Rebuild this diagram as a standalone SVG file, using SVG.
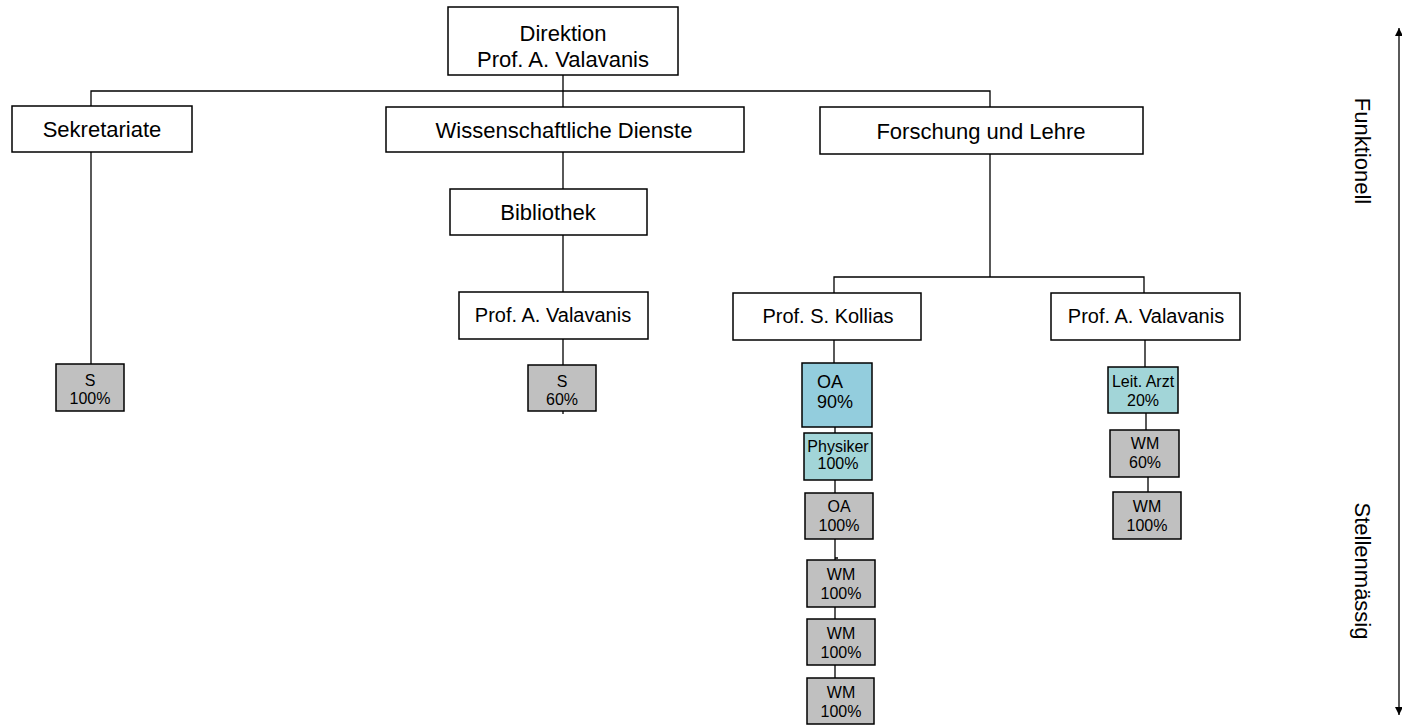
<svg xmlns="http://www.w3.org/2000/svg" width="1402" height="726" viewBox="0 0 1402 726">
<defs>
<style>
.box{fill:#ffffff;stroke:#000000;stroke-width:1.5}
.gray{fill:#c0c0c0;stroke:#000000;stroke-width:1.5}
.aqua{fill:#93cddd;stroke:#000000;stroke-width:1.5}
.teal{fill:#a2d5d8;stroke:#000000;stroke-width:1.5}
.lbl{font-family:"Liberation Sans",Arial,sans-serif;font-size:22px;fill:#000;text-anchor:middle}
.prof{font-family:"Liberation Sans",Arial,sans-serif;font-size:20px;fill:#000;text-anchor:middle}
.sm{font-family:"Liberation Sans",Arial,sans-serif;font-size:16px;fill:#000;text-anchor:middle}
.md{font-family:"Liberation Sans",Arial,sans-serif;font-size:18px;fill:#000}
.side{font-family:"Liberation Sans",Arial,sans-serif;font-size:22px;fill:#000;text-anchor:middle}
.con{fill:none;stroke:#000000;stroke-width:1.3}
</style>
<marker id="ah" viewBox="0 0 10 10" refX="10" refY="5" markerWidth="12" markerHeight="8" markerUnits="userSpaceOnUse" orient="auto-start-reverse">
<path d="M0,0 L10,5 L0,10 z" fill="#000"/>
</marker>
</defs>
<rect width="1402" height="726" fill="#ffffff"/>

<g id="connectors">
<path class="con" d="M563,75 V107 M91,106 V91 H990 V107"/>
<path class="con" d="M91,152 V364"/>
<path class="con" d="M563,152 V189 M563,235 V292 M563,339 V365 M563,411 V414"/>
<path class="con" d="M990,154 V277 M834,293 V277 H1144 V293"/>
<path class="con" d="M834,340 V363 M835,427 V433 M835,480 V493 M835,539 V560 M835,558 H838 M835,607 V619 M835,665 V678"/>
<path class="con" d="M1145,340 V367 M1146,413 V430 M1148,477 V492"/>
<line id="axis" class="con" x1="1399" y1="28" x2="1399" y2="715" marker-start="url(#ah)" marker-end="url(#ah)"/>
</g>

<g id="direktion">
<rect class="box" x="448" y="7" width="230" height="68"/>
<text class="lbl" x="563" y="41">Direktion</text>
<text class="lbl" x="563" y="67">Prof. A. Valavanis</text>
</g>
<g id="sekretariate">
<rect class="box" x="12" y="106" width="180" height="46"/>
<text class="lbl" x="102" y="137">Sekretariate</text>
</g>
<g id="wiss-dienste">
<rect class="box" x="386" y="107" width="358" height="45"/>
<text class="lbl" x="564" y="138">Wissenschaftliche Dienste</text>
</g>
<g id="forschung">
<rect class="box" x="820" y="107" width="323" height="47"/>
<text class="lbl" x="981" y="139">Forschung und Lehre</text>
</g>
<g id="bibliothek">
<rect class="box" x="450" y="189" width="197" height="46"/>
<text class="lbl" x="548" y="220">Bibliothek</text>
</g>
<g id="valavanis-mid">
<rect class="box" x="459" y="292" width="189" height="47"/>
<text class="prof" x="553" y="322">Prof. A. Valavanis</text>
</g>
<g id="kollias">
<rect class="box" x="733" y="293" width="188" height="47"/>
<text class="prof" x="828" y="323">Prof. S. Kollias</text>
</g>
<g id="valavanis-right">
<rect class="box" x="1051" y="293" width="189" height="47"/>
<text class="prof" x="1146" y="323">Prof. A. Valavanis</text>
</g>

<g id="s-100">
<rect class="gray" x="56" y="364" width="68" height="47"/>
<text class="sm" x="90" y="386">S</text>
<text class="sm" x="90" y="404">100%</text>
</g>
<g id="s-60">
<rect class="gray" x="528" y="365" width="68" height="46"/>
<text class="sm" x="562" y="387">S</text>
<text class="sm" x="562" y="405">60%</text>
</g>

<g id="oa-90">
<rect class="aqua" x="802" y="363" width="70" height="64"/>
<text class="md" x="817" y="388">OA</text>
<text class="md" x="817" y="408">90%</text>
</g>
<g id="physiker">
<rect class="teal" x="804" y="433" width="68" height="47"/>
<text class="sm" x="838" y="452">Physiker</text>
<text class="sm" x="838" y="469">100%</text>
</g>
<g id="oa-100">
<rect class="gray" x="805" y="493" width="68" height="46"/>
<text class="sm" x="839" y="512">OA</text>
<text class="sm" x="839" y="531">100%</text>
</g>
<g id="wm-1">
<rect class="gray" x="807" y="560" width="68" height="47"/>
<text class="sm" x="841" y="580">WM</text>
<text class="sm" x="841" y="599">100%</text>
</g>
<g id="wm-2">
<rect class="gray" x="807" y="619" width="68" height="46"/>
<text class="sm" x="841" y="639">WM</text>
<text class="sm" x="841" y="658">100%</text>
</g>
<g id="wm-3">
<rect class="gray" x="807" y="678" width="67" height="46"/>
<text class="sm" x="841" y="698">WM</text>
<text class="sm" x="841" y="717">100%</text>
</g>

<g id="leit-arzt">
<rect class="teal" x="1108" y="367" width="70" height="46"/>
<text class="sm" x="1143" y="387">Leit. Arzt</text>
<text class="sm" x="1143" y="406">20%</text>
</g>
<g id="wm-60">
<rect class="gray" x="1110" y="430" width="69" height="47"/>
<text class="sm" x="1145" y="449">WM</text>
<text class="sm" x="1145" y="468">60%</text>
</g>
<g id="wm-100-right">
<rect class="gray" x="1113" y="492" width="68" height="47"/>
<text class="sm" x="1147" y="512">WM</text>
<text class="sm" x="1147" y="531">100%</text>
</g>

<g id="axis-labels">
<text class="side" transform="translate(1355,151) rotate(90)">Funktionell</text>
<text class="side" transform="translate(1355,571) rotate(90)">Stellenmässig</text>
</g>
</svg>
